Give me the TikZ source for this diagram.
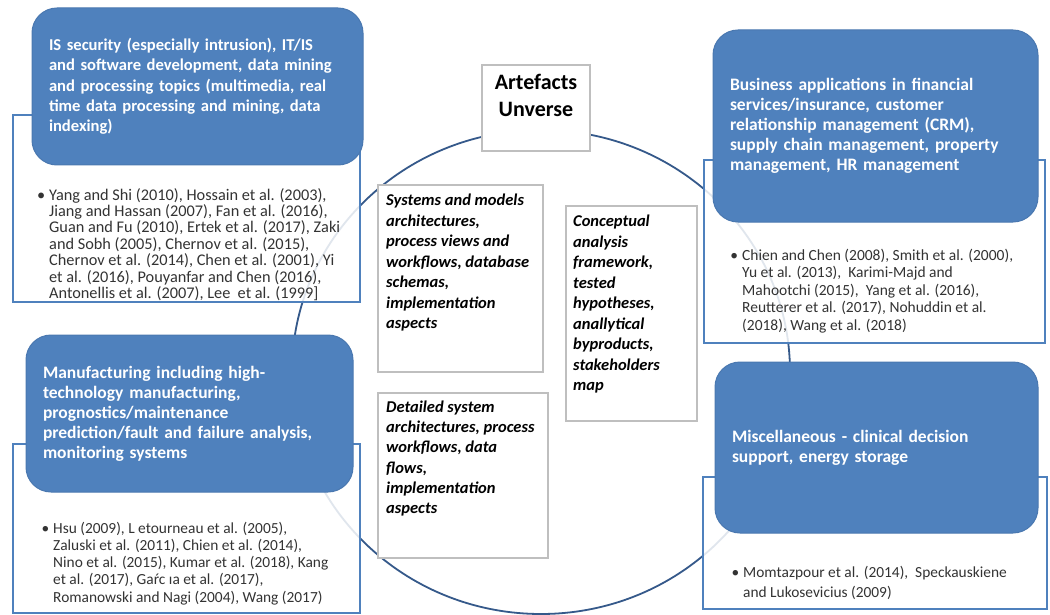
\documentclass[tikz,border=0pt]{standalone}
\usepackage{fontspec}
\setmainfont{Carlito}
\usetikzlibrary{shapes.geometric}
\definecolor{boxblue}{HTML}{4F81BD}
\definecolor{boxedge}{HTML}{4A78B0}
\definecolor{circblue}{HTML}{35598A}
\definecolor{refgray}{HTML}{333333}
\definecolor{cgray}{HTML}{BFBFBF}
\tikzset{
  bluebox/.style={draw=boxedge, fill=boxblue, rounded corners=25pt, line width=1pt,
    inner xsep=17pt, inner ysep=0pt, outer sep=0pt, anchor=north west, text=white,
    font=\bfseries\fontsize{17.5}{20}\selectfont, align=left},
  whitebox/.style={draw=boxblue, fill=white, fill opacity=0.85, line width=1.5pt,
    inner sep=0pt, outer sep=0pt, anchor=north west},
  reftext/.style={anchor=base west, inner sep=0pt, text=refgray, align=left},
  cbox/.style={draw=cgray, fill=white, line width=1.2pt, inner sep=0pt, outer sep=0pt,
    anchor=north west},
  ctext/.style={anchor=base west, inner sep=0pt, align=left,
    font=\bfseries\itshape\fontsize{16.5}{20.5}\selectfont},
  universe/.style={draw=circblue, line width=1.8pt, ellipse, inner sep=0pt, outer sep=0pt,
    minimum width=498pt, minimum height=484pt}
}
\newcommand{\bul}{\llap{•\hspace{4pt}}}
\begin{document}
\begin{tikzpicture}[x=1pt,y=-1pt]
\useasboundingbox[fill=white] (0,0) rectangle (1050,615);
% big circle
\node[universe] (univ) at (541,372) {};
% white reference boxes
\node[whitebox, minimum width=347pt, minimum height=187pt] (tlw) at (13,115) {};
\node[whitebox, minimum width=341pt, minimum height=183pt] (trw) at (704,160) {};
\node[whitebox, minimum width=347pt, minimum height=169pt] (blw) at (13,444) {};
\node[whitebox, minimum width=344pt, minimum height=132pt] (brw) at (703,477) {};
% blue category boxes
\node[bluebox, font=\bfseries\fontsize{16.6}{20.3}\selectfont, text width=297pt, minimum height=157pt] (tl) at (32,8)
  {IS security (especially intrusion), IT/IS\\ and software development, data mining\\ and processing topics (multimedia, real\\ time data processing and mining, data\\ indexing)};
\node[bluebox, text width=291pt, minimum height=192pt] (tr) at (713,30)
  {Business applications in financial\\ services/insurance, customer\\ relationship management (CRM),\\ supply chain management, property\\ management, HR management};
\node[bluebox, text width=293pt, minimum height=157pt] (bl) at (26,335)
  {Manufacturing including high-\\ technology manufacturing,\\ prognostics/maintenance\\ prediction/fault and failure analysis,\\ monitoring systems};
\node[bluebox, text width=289pt, minimum height=171pt] (br) at (715,362)
  {Miscellaneous - clinical decision\\ support, energy storage};
% reference texts (anchored at the baseline of their last line)
\node[reftext, font=\fontsize{16.3}{16.4}\selectfont] (tlr) at (49,298.5)
  {\bul Yang and Shi (2010), Hossain et al. (2003),\\ Jiang and Hassan (2007), Fan et al. (2016),\\ Guan and Fu (2010), Ertek et al. (2017), Zaki\\ and Sobh (2005), Chernov et al. (2015),\\ Chernov et al. (2014), Chen et al. (2001), Yi\\ et al. (2016), Pouyanfar and Chen (2016),\\ Antonellis et al. (2007), Lee\ \ et al. (1999]};
\node[reftext, font=\fontsize{15.5}{17.5}\selectfont] (trr) at (742,330)
  {\bul Chien and Chen (2008), Smith et al. (2000),\\ Yu et al. (2013),\ \ Karimi-Majd and\\ Mahootchi (2015),\ \ Yang et al. (2016),\\ Reutterer et al. (2017), Nohuddin et al.\\ (2018), Wang et al. (2018)};
\node[reftext, font=\fontsize{15.4}{17.25}\selectfont] (blr) at (53,602)
  {\bul Hsu (2009), L etourneau et al. (2005),\\ Zaluski et al. (2011), Chien et al. (2014),\\ Nino et al. (2015), Kumar et al. (2018), Kang\\ et al. (2017), Gaŕc ıa et al. (2017),\\ Romanowski and Nagi (2004), Wang (2017)};
\node[reftext, font=\fontsize{15.4}{20}\selectfont] (brr) at (743,597)
  {\bul Momtazpour et al. (2014),\ \ Speckauskiene\\ and Lukosevicius (2009)};
% centre boxes
\node[cbox, minimum width=108pt, minimum height=86pt] (art) at (482,65) {};
\node[anchor=base, inner sep=0pt, align=center, font=\bfseries\fontsize{22}{27}\selectfont] (artt) at (536,116.5) {Artefacts\\ Unverse};
\node[cbox, minimum width=165pt, minimum height=187pt] (sys) at (378,185) {};
\node[ctext] (syst) at (386,328.5) {Systems and models\\ architectures,\\ process views and\\ workflows, database\\ schemas,\\ implementation\\ aspects};
\node[cbox, minimum width=131pt, minimum height=215pt] (con) at (566,206) {};
\node[ctext] (cont) at (573,390.5) {Conceptual\\ analysis\\ framework,\\ tested\\ hypotheses,\\ anallytical\\ byproducts,\\ stakeholders\\ map};
\node[cbox, minimum width=170pt, minimum height=165pt] (det) at (378,393) {};
\node[ctext, font=\bfseries\itshape\fontsize{16.5}{20.2}\selectfont] (dett) at (386,513.5) {Detailed system\\ architectures, process\\ workflows, data\\ flows,\\ implementation\\ aspects};
\end{tikzpicture}
\end{document}
